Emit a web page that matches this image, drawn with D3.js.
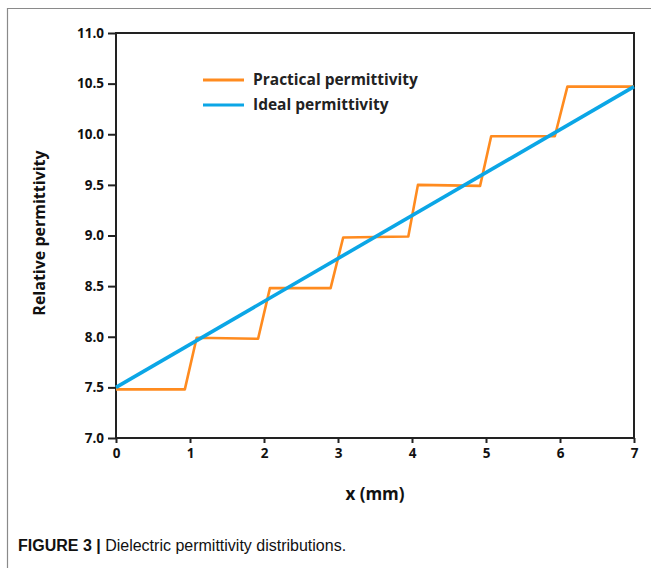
<!DOCTYPE html>
<html>
<head>
<meta charset="utf-8">
<script src="https://cdn.jsdelivr.net/npm/d3@7"></script>
<style>
  body { margin: 0; background: #fff; }
</style>
</head>
<body>
<svg id="chart" width="651" height="568"></svg>
<script>
// practical (stepped) permittivity
var practicalX = [0, 0.93, 1.09, 1.92, 2.08, 2.9, 3.07, 3.95, 4.08, 4.92, 5.07, 5.93, 6.1, 7];
var practicalY = [7.48, 7.48, 7.99, 7.98, 8.48, 8.48, 8.98, 8.99, 9.5, 9.49, 9.98, 9.98, 10.47, 10.47];
// ideal (linear) permittivity
var idealX = [0, 7];
var idealY = [7.5, 10.47];
var xTicks = [0, 1, 2, 3, 4, 5, 6, 7];
var yTicks = [7.0, 7.5, 8.0, 8.5, 9.0, 9.5, 10.0, 10.5, 11.0];
var seriesNames = ['Practical permittivity', 'Ideal permittivity'];
var colors = ['#ff8b1f', '#0ba6e6'];

var font = '"Open Sans", Lato, sans-serif';
var svg = d3.select('#chart');

// figure frame (open to the right / bottom like the cropped source)
svg.append('path').attr('d', 'M7.5,568V8.5H651').attr('fill', 'none').attr('stroke', '#8a8a8a').attr('stroke-width', 1.2);

var pLeft = 116, pRight = 634, pTop = 33, pBottom = 438;
var x = d3.scaleLinear().domain([0, 7]).range([pLeft, pRight]);
var y = d3.scaleLinear().domain([7, 11]).range([pBottom, pTop]);

var g = svg.append('g');

// plot box
g.append('rect').attr('x', pLeft).attr('y', pTop).attr('width', pRight - pLeft).attr('height', pBottom - pTop)
	.attr('fill', 'none').attr('stroke', '#222').attr('stroke-width', 2);

var xAxis = g.append('g').attr('transform', 'translate(0,' + pBottom + ')')
	.call(d3.axisBottom(x).tickValues(xTicks).tickSize(5).tickPadding(5).tickFormat(d3.format('d')));
var yAxis = g.append('g').attr('transform', 'translate(' + pLeft + ',0)')
	.call(d3.axisLeft(y).tickValues(yTicks).tickSize(8).tickPadding(4).tickFormat(d3.format('.1f')));

[xAxis, yAxis].forEach(function(a) {
	a.select('.domain').remove();
	a.selectAll('line').attr('stroke', '#222').attr('stroke-width', 2);
	a.selectAll('text').style('font-family', font).style('font-weight', 'bold').style('font-size', '13.5px').attr('fill', '#111');
});

var line = d3.line().x(function(d) { return x(d[0]); }).y(function(d) { return y(d[1]); });

g.append('path').datum(d3.zip(practicalX, practicalY)).attr('d', line)
	.attr('fill', 'none').attr('stroke', colors[0]).attr('stroke-width', 2.6).attr('stroke-linejoin', 'round');
g.append('path').datum(d3.zip(idealX, idealY)).attr('d', line)
	.attr('fill', 'none').attr('stroke', colors[1]).attr('stroke-width', 3.6);

// legend
var legend = g.append('g').attr('transform', 'translate(203,80)');
seriesNames.forEach(function(name, i) {
	var row = legend.append('g').attr('transform', 'translate(0,' + (i * 25) + ')');
	row.append('line').attr('x1', 0).attr('x2', 41).attr('stroke', colors[i]).attr('stroke-width', 3);
	row.append('text').attr('x', 50).attr('y', 5).style('font-family', font).style('font-size', '15.5px')
		.style('font-weight', 'bold').attr('fill', '#222').text(name);
});

// axis titles
svg.append('text').attr('x', 375).attr('y', 500).attr('text-anchor', 'middle')
	.style('font-family', font).style('font-size', '17px').style('font-weight', 'bold').attr('fill', '#111').text('x (mm)');
svg.append('text').attr('transform', 'translate(45,233) rotate(-90)').attr('text-anchor', 'middle')
	.style('font-family', font).style('font-size', '16px').style('font-weight', 'bold').attr('fill', '#111').text('Relative permittivity');

// caption
var cap = svg.append('text').attr('x', 18).attr('y', 551)
	.style('font-family', '"Liberation Sans Narrow", "Liberation Sans", Arial, sans-serif').style('font-size', '16px').attr('fill', '#111');
cap.append('tspan').style('font-weight', 'bold').text('FIGURE 3 | ');
cap.append('tspan').text('Dielectric permittivity distributions.');
</script>
</body>
</html>
